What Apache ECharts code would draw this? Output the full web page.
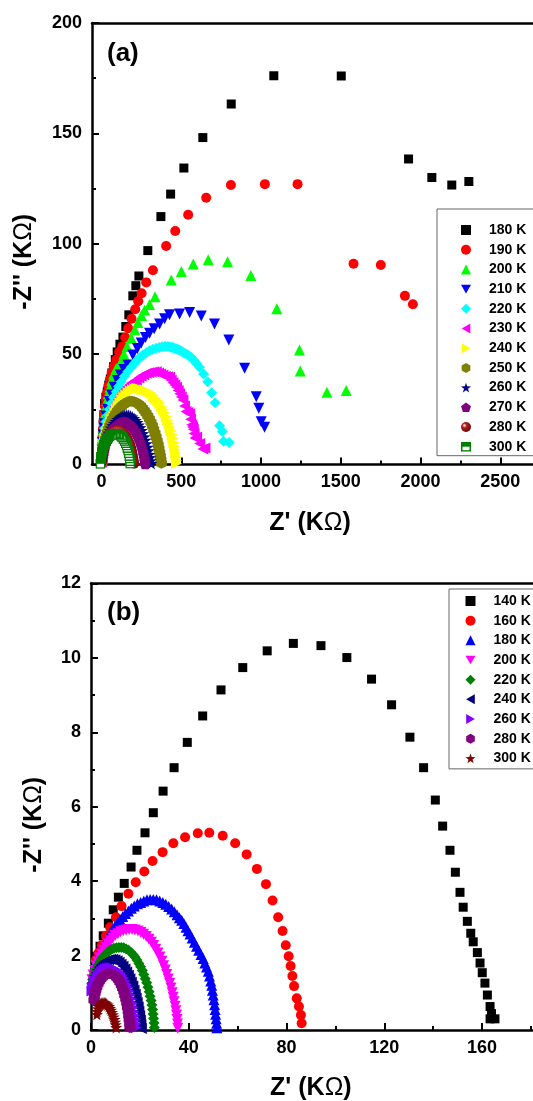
<!DOCTYPE html>
<html>
<head>
<meta charset="utf-8">
<script src="https://cdn.jsdelivr.net/npm/echarts@6/dist/echarts.min.js"></script>
<style>
html,body{margin:0;padding:0;background:#fff;}
#chart{width:533px;height:1101px;}
</style>
</head>
<body>
<div id="chart"></div>
<script>
// ---------- Panel (a) data : [Z' (KOhm), -Z'' (KOhm)] ----------
const a180 = [[1,3],[3,7],[5,11],[8,15],[11,19],[14,22.5],[19,27.7],[27,30.5],[36,33],[45,36],[55,38.8],[65,41.5],[75,44.3],[86,47.5],[98,51],[115,54.5],[134,57.7],[152,62.5],[171,67.8],[196,76.4],[215,81],[234,85.4],[290,96.9],[372,112.3],[433,122.5],[516,134.3],[635,148.1],[813,163.3],[1080,176.1],[1503,176],[1925,138.4],[2071,130],[2196,126.6],[2303,128.2]];
const a190 = [[1,2.5],[2,5.5],[4,9],[6,12.5],[9,16],[12,19.5],[16,23],[21,26.5],[27,29.5],[34,32.5],[42,35.5],[52,38.5],[63,41.5],[76,44.5],[92,47.4],[110,51],[130,53.5],[148,57.5],[167,61.7],[188,66],[211,70.3],[230,74],[251,77.6],[280,82.5],[322,88],[405,99],[462,105.8],[543,113.1],[656,120.8],[811,126.6],[1024,127],[1229,127],[1580,90.9],[1751,90.4],[1902,76.4],[1952,72.6]];
const a200 = [[1,2],[2,5],[4,8],[6,11],[9,14],[12,17],[16,20],[21,23],[27,26],[34,29],[42,32],[52,35],[63,38],[76,41],[92,43.5],[109,44.6],[123,46.5],[140,50],[160,53.5],[186,57.2],[208,61],[228,64.3],[250,67.5],[270,70],[301,72.5],[335,76],[437,83.6],[500,87.4],[575,90.8],[669,92.7],[790,91.9],[936,85.6],[1099,70.5],[1241,51.9],[1246,42.4],[1413,32.7],[1534,33.5]];
const a210 = [[1,3],[3,6.5],[6,10],[10,13.5],[15,16.5],[20,18.5],[28,22],[38,25],[50,28.5],[63,31.5],[80,35],[100,38],[118,40.5],[140,43],[165,45.1],[196,49.6],[225,52.5],[249,55],[275,57.5],[301,59.5],[330,61.5],[364,63.7],[395,66],[426,67.8],[489,68.2],[552,68.8],[625,67.3],[708,63.7],[798,56.4],[897,43.6],[970,30.7],[986,25.5],[1001,19.4],[1022,16.9]];
const a220 = [[1,2],[3,5],[5,8],[8,11],[12,13.5],[19,16.4],[28,19.5],[40,22.4],[50,25],[61,27.7],[75,30.5],[92,33],[107,35.3],[123,37.5],[143,40],[165,42.1],[186,44],[207,45.9],[220,47],[233,48],[246,48.8],[259,49.6],[280,50.6],[300,51.5],[322,52.2],[343,52.7],[362,53],[380,53.3],[398,53.4],[416,53.4],[431,53.2],[445,53],[457,52.7],[468,52.4],[479,52.1],[490,51.8],[500,51.4],[510,50.9],[524,50.3],[537,49.8],[550,49.2],[562,48.6],[578,47.2],[594,45.9],[614,44.1],[640,41],[666,37.5],[690,32.5],[712,28],[740,17.5],[757,14.9],[765,10.5],[800,10]];
const a230 = [[0,1],[1,2],[3,3],[5,4],[7,5],[10,6.3],[13,7.5],[16,8.6],[19,9.6],[23,11.3],[28,13],[34,14.7],[40,16.4],[45,18],[50,19.5],[55,21],[61,22.4],[67,23.7],[74,25],[81,26],[88,27],[96,28.3],[105,29.5],[114,30.5],[123,31.5],[133,32.5],[143,33.5],[154,34.4],[165,35.3],[177,36.2],[190,37],[204,37.7],[218,38.3],[233,39.2],[248,40],[264,40.7],[280,41.3],[295,41.6],[311,41.8],[327,42],[343,42],[357,41.5],[370,41],[385,40.5],[400,40],[413,39.8],[426,39.5],[437,38.2],[448,37],[459,36],[470,35],[480,33.5],[490,32],[500,30.6],[510,29.2],[520,26.5],[530,24],[541,23.5],[552,23],[558,20.5],[565,18],[570,17],[575,16],[580,14],[585,12],[596,12.5],[615,9.5],[635,7],[648,7.5]];
const a240 = [[1,1],[2,2.5],[4,4],[7,5.5],[10,7],[14,8.5],[18,10],[23,11.5],[28,13],[34,14.5],[41,16],[48,17.5],[56,19],[64,20.5],[73,22],[83,23.5],[93,25],[104,26.5],[115,28],[127,29.3],[139,30.5],[152,31.5],[166,32.5],[180,33.3],[194,33.9],[208,34.3],[222,34.5],[236,34.4],[250,34],[265,33.8],[280,33.4],[296,32.8],[311,32.3],[325,31.2],[338,30],[351,28.9],[364,27.7],[376,26.2],[387,24.8],[397,23.2],[406,21.6],[414,20],[422,18.5],[430,16.8],[437,15.2],[443,13.5],[448,11.8],[453,10],[458,8.3],[462,6.6],[466,5],[468,3.4],[470,1.8],[470,0.5]];
const a250 = [[1,1],[3,2.5],[5,4],[8,5.5],[11,7],[15,8.5],[19,10],[24,11.5],[30,13],[36,14.5],[43,16],[51,17.5],[59,19],[68,20.4],[78,21.8],[88,23],[99,24.2],[111,25.3],[123,26.3],[136,27.1],[149,27.8],[162,28.3],[176,28.6],[190,28.6],[204,28.4],[218,28],[231,27.4],[244,26.6],[256,25.6],[268,24.5],[279,23.3],[290,22],[300,20.6],[310,19.1],[319,17.5],[327,15.9],[335,14.2],[342,12.5],[349,10.7],[355,8.9],[360,7.1],[365,5.3],[369,3.6],[372,2],[375,0.6]];
const a260 = [[1,1],[3,2.3],[5,3.6],[8,5],[11,6.4],[15,7.8],[19,9.1],[24,10.4],[30,11.7],[36,13],[43,14.2],[51,15.4],[59,16.5],[68,17.6],[78,18.6],[88,19.5],[99,20.3],[110,21],[122,21.6],[134,22],[146,22.3],[158,22.4],[170,22.3],[182,22],[193,21.5],[204,20.8],[215,20],[225,19],[235,17.9],[244,16.7],[253,15.4],[261,14],[269,12.5],[276,11],[283,9.4],[289,7.8],[295,6.2],[300,4.6],[305,3.1],[309,1.7],[312,0.5]];
const a270 = [[1,1],[3,2.2],[5,3.4],[8,4.7],[11,6],[15,7.3],[19,8.5],[24,9.7],[30,10.9],[36,12],[43,13.1],[51,14.1],[59,15],[68,15.9],[78,16.7],[88,17.4],[98,18],[109,18.5],[120,18.9],[131,19.1],[142,19.2],[153,19.1],[164,18.8],[175,18.3],[185,17.7],[195,16.9],[204,16],[213,15],[221,13.9],[229,12.7],[236,11.4],[243,10],[249,8.6],[255,7.1],[260,5.6],[264,4.1],[268,2.7],[271,1.3],[273,0.3]];
const a280 = [[1,1],[3,2],[5,3.1],[8,4.3],[11,5.5],[15,6.7],[19,7.8],[24,8.9],[30,10],[36,11],[43,11.9],[51,12.8],[60,13.6],[69,14.3],[79,14.8],[89,15.2],[99,15.4],[109,15.4],[119,15.2],[129,14.8],[139,14.2],[148,13.4],[157,12.5],[165,11.4],[173,10.2],[180,8.9],[186,7.5],[191,6],[195,4.5],[199,3],[202,1.6],[204,0.4]];
const a300 = [[180,0.4],[179,1.5],[177,2.7],[174,3.9],[171,5.1],[167,6.3],[162,7.5],[157,8.6],[151,9.7],[144,10.7],[137,11.6],[129,12.4],[121,13],[112,13.5],[103,13.8],[94,14],[85,14],[76,13.9],[67,13.6],[58,13.2],[50,12.7],[42,12.1],[35,11.4],[28,10.6],[22,9.7],[17,8.8],[12,7.8],[8,6.8],[4,5.7],[1,4.6],[-2,3.5],[-4,2.4],[-6,1.3],[-7,0.3]];

// ---------- Panel (b) data ----------
const b140 = [[2.3,1.98],[3.7,2.25],[5,2.53],[7.1,2.87],[9.1,3.23],[11.2,3.57],[13.6,3.94],[16.4,4.38],[18.8,4.83],[22.1,5.3],[25.5,5.84],[29.5,6.42],[34,7.05],[39.4,7.73],[45.7,8.44],[53.2,9.14],[62.1,9.74],[72.1,10.19],[82.8,10.39],[94.1,10.33],[104.7,10.01],[114.8,9.43],[123,8.74],[130.5,7.87],[136.1,7.05],[140.9,6.18],[143.9,5.48],[146.9,4.83],[149.1,4.24],[151,3.7],[152.3,3.3],[154,2.92],[155.4,2.6],[156.4,2.37],[158.1,2.08],[159.2,1.8],[160.1,1.54],[161.2,1.26],[162.2,0.94],[163.3,0.63],[163.9,0.44],[163.3,0.3],[165.3,0.3]];
const b160 = [[2,1.88],[3,2.06],[4.4,2.28],[6.1,2.53],[7.8,2.76],[10.2,3.03],[12.5,3.33],[15.3,3.66],[18.3,3.97],[21.8,4.26],[25.2,4.54],[29.3,4.78],[33.7,5.02],[38.5,5.18],[43.7,5.29],[48.4,5.3],[53.9,5.22],[59,5.02],[63.7,4.72],[67.9,4.33],[71.6,3.92],[74.3,3.48],[76.6,3.03],[78.4,2.66],[79.7,2.28],[80.9,1.98],[81.7,1.72],[82.4,1.45],[83.1,1.18],[84.2,0.85],[85.1,0.63],[85.9,0.4],[86.2,0.18]];
const b180 = [[0.4,1.35],[0.8,1.5],[1.3,1.62],[1.8,1.74],[2.4,1.86],[3,1.97],[3.7,2.08],[4.4,2.19],[5.2,2.3],[6,2.4],[6.9,2.5],[7.8,2.6],[8.8,2.7],[9.8,2.79],[10.8,2.88],[11.9,2.97],[13,3.05],[14.1,3.13],[15.3,3.2],[16.5,3.27],[17.7,3.33],[19,3.39],[20.3,3.43],[21.6,3.47],[22.9,3.5],[24.2,3.51],[25.5,3.51],[26.8,3.5],[28.1,3.47],[29.4,3.43],[30.6,3.38],[31.8,3.32],[33,3.25],[34.1,3.18],[35.2,3.1],[36.2,3.02],[37.1,2.95],[38,2.86],[38.9,2.76],[39.7,2.67],[40.5,2.58],[41.4,2.47],[42.3,2.36],[43.2,2.25],[44.1,2.14],[45,2.03],[45.9,1.92],[46.6,1.8],[47.3,1.69],[48,1.58],[48.5,1.45],[49,1.32],[49.4,1.2],[49.7,1.07],[50,0.94],[50.3,0.81],[50.6,0.68],[50.8,0.55],[51,0.42],[51.2,0.3],[51.4,0.18],[51.5,0.06]];
const b200 = [[0.4,1.35],[0.9,1.48],[1.5,1.6],[2.1,1.72],[2.8,1.83],[3.5,1.94],[4.3,2.04],[5.1,2.14],[6,2.23],[6.9,2.32],[7.9,2.4],[8.9,2.47],[9.9,2.54],[11,2.59],[12.1,2.64],[13.2,2.67],[14.4,2.69],[15.6,2.7],[16.8,2.7],[18,2.69],[19.2,2.66],[20.4,2.62],[21.5,2.57],[22.6,2.51],[23.7,2.44],[24.7,2.36],[25.6,2.27],[26.5,2.17],[27.4,2.07],[28.2,1.96],[29,1.85],[29.7,1.73],[30.4,1.61],[31,1.49],[31.6,1.37],[32.2,1.25],[32.7,1.13],[33.2,1.0],[33.6,0.88],[34,0.76],[34.4,0.64],[34.7,0.52],[35,0.4],[35.2,0.28],[35.4,0.16],[35.5,0.05]];
const b220 = [[0.3,1.25],[0.7,1.36],[1.2,1.47],[1.7,1.57],[2.3,1.66],[2.9,1.75],[3.6,1.83],[4.3,1.9],[5.1,1.97],[5.9,2.03],[6.7,2.08],[7.6,2.13],[8.5,2.17],[9.4,2.2],[10.4,2.21],[11.4,2.22],[12.4,2.22],[13.4,2.21],[14.4,2.18],[15.4,2.14],[16.3,2.09],[17.2,2.03],[18,1.96],[18.8,1.88],[19.6,1.79],[20.3,1.7],[21,1.6],[21.6,1.49],[22.2,1.38],[22.8,1.27],[23.3,1.15],[23.8,1.03],[24.2,0.91],[24.6,0.79],[24.9,0.67],[25.2,0.55],[25.4,0.43],[25.6,0.31],[25.8,0.19],[25.9,0.07]];
const b240 = [[0.3,1.15],[0.7,1.26],[1.1,1.36],[1.6,1.45],[2.2,1.54],[2.8,1.62],[3.4,1.69],[4.1,1.75],[4.8,1.8],[5.6,1.84],[6.4,1.87],[7.2,1.89],[8,1.9],[8.9,1.9],[9.8,1.89],[10.7,1.86],[11.5,1.82],[12.3,1.77],[13.1,1.71],[13.9,1.64],[14.6,1.56],[15.3,1.47],[15.9,1.38],[16.5,1.28],[17.1,1.18],[17.6,1.07],[18.1,0.96],[18.5,0.85],[18.9,0.74],[19.3,0.62],[19.6,0.5],[19.9,0.38],[20.2,0.26],[20.4,0.14],[20.6,0.04]];
const b260 = [[0.4,1.05],[0.8,1.14],[1.3,1.23],[1.8,1.31],[2.4,1.39],[3,1.46],[3.7,1.52],[4.4,1.57],[5.2,1.61],[6,1.64],[6.8,1.66],[7.7,1.67],[8.6,1.67],[9.5,1.65],[10.3,1.62],[11.1,1.58],[11.9,1.53],[12.6,1.47],[13.3,1.4],[13.9,1.32],[14.5,1.23],[15.1,1.14],[15.6,1.04],[16.1,0.94],[16.5,0.83],[16.9,0.72],[17.3,0.61],[17.6,0.5],[17.9,0.39],[18.2,0.28],[18.4,0.17],[18.6,0.06]];
const b280 = [[1.2,0.8],[1.4,0.9],[1.7,1.0],[2,1.08],[2.4,1.16],[2.9,1.24],[3.4,1.31],[4,1.37],[4.6,1.42],[5.3,1.46],[6,1.49],[6.7,1.51],[7.5,1.52],[8.3,1.51],[9.1,1.49],[9.8,1.46],[10.5,1.41],[11.2,1.36],[11.8,1.29],[12.4,1.21],[12.9,1.13],[13.4,1.04],[13.8,0.94],[14.2,0.84],[14.6,0.73],[14.9,0.62],[15.2,0.51],[15.4,0.4],[15.6,0.29],[15.8,0.18],[15.9,0.07]];
const b300 = [[2.4,0.42],[2.5,0.5],[2.8,0.57],[3.1,0.63],[3.5,0.67],[3.9,0.7],[4.4,0.72],[4.9,0.73],[5.4,0.73],[5.9,0.72],[6.4,0.7],[6.9,0.67],[7.4,0.63],[7.8,0.58],[8.2,0.53],[8.6,0.47],[9,0.41],[9.3,0.35],[9.6,0.28],[9.9,0.21],[10.1,0.14],[10.3,0.07]];

// ---------- Tick values ----------
const aXMajor = [0,500,1000,1500,2000,2500,3000];
const aXMinor = [250,750,1250,1750,2250,2750];
const aLegendLabels = ['180 K','190 K','200 K','210 K','220 K','230 K','240 K','250 K','260 K','270 K','280 K','300 K'];
const bLegendLabels = ['140 K','160 K','180 K','200 K','220 K','240 K','260 K','280 K','300 K'];

// ---------- Styling ----------
const FONT = "'Liberation Sans', Arial, sans-serif";
const SYM = {
  square: 'rect',
  circle: 'circle',
  up: 'triangle',
  down: 'path://M0,0L10,0L5,8.66Z',
  left: 'path://M0,5L8.66,0L8.66,10Z',
  right: 'path://M0,0L8.66,5L0,10Z',
  diamond: 'diamond',
  hex: 'path://M5,0L9.33,2.5L9.33,7.5L5,10L0.67,7.5L0.67,2.5Z',
  star: 'path://M5,0L6.2,3.6L10,3.7L7,6L8.1,9.8L5,7.6L1.9,9.8L3,6L0,3.7L3.8,3.6Z',
  pent: 'path://M5,0L10,3.6L8.1,9.5L1.9,9.5L0,3.6Z'
};
const halfSvg = "<svg xmlns='http://www.w3.org/2000/svg' width='20' height='20' viewBox='0 0 20 20'><rect x='1.5' y='1.5' width='17' height='17' fill='#ffffff' stroke='#008000' stroke-width='3'/><rect x='0' y='0' width='20' height='10' fill='#008000'/></svg>";
const HALF = 'image://data:image/svg+xml;charset=utf-8,' + encodeURIComponent(halfSvg);
const sphere = {type:'radial', x:0.35, y:0.35, r:0.75, colorStops:[{offset:0,color:'#ffffff'},{offset:0.3,color:'#b02020'},{offset:1,color:'#5a0000'}]};

function sc(name, data, symbol, size, color, xi, yi) {
  return {type:'scatter', name:name, data:data, symbol:symbol, symbolSize:size,
    itemStyle:{color:color, opacity:1}, xAxisIndex:xi, yAxisIndex:yi,
    animation:false, silent:true, emphasis:{disabled:true}};
}

const plain = (v) => String(v);
const lineStyle = {color:'#000', width:2.5};
const tickStyle = {color:'#000', width:2};
const labelStyle = {color:'#000', fontFamily:FONT, fontWeight:'bold', fontSize:18, formatter:plain};
const nameStyleX = {color:'#000', fontFamily:FONT, fontWeight:'bold', fontSize:25, padding:[0,52,0,0],
  rich:{o:{color:'#000', fontFamily:FONT, fontWeight:'normal', fontSize:25}}};
const nameStyleY = {color:'#000', fontFamily:FONT, fontWeight:'bold', fontSize:25, padding:[0,36,0,0],
  rich:{o:{color:'#000', fontFamily:FONT, fontWeight:'normal', fontSize:25}}};
const legendText = {color:'#000', fontFamily:FONT, fontWeight:'bold', fontSize:14, lineHeight:14, padding:[0,0,0,13]};

const frameAxis = (gi, pos, min, max) => ({type:'value', gridIndex:gi, position:pos, min:min, max:max,
  axisLine:{show:true, onZero:false, lineStyle:lineStyle}, axisTick:{show:false}, axisLabel:{show:false}, splitLine:{show:false}});

const aNames = ['a180','a190','a200','a210','a220','a230','a240','a250','a260','a270','a280','a300'];
const bNames = ['b140','b160','b180','b200','b220','b240','b260','b280','b300'];
const labelMap = {};
aNames.forEach((n,i)=>labelMap[n]=aLegendLabels[i]);
bNames.forEach((n,i)=>labelMap[n]=bLegendLabels[i]);

const option = {
  backgroundColor:'#fff',
  animation:false,
  title:[
    {text:'(a)', left:107, top:41, padding:0, textStyle:{fontFamily:FONT, fontWeight:'bold', fontSize:26, color:'#000'}},
    {text:'(b)', left:107, top:600, padding:0, textStyle:{fontFamily:FONT, fontWeight:'bold', fontSize:26, color:'#000'}}
  ],
  grid:[
    {left:92, top:23, width:488, height:441.5, containLabel:false, outerBoundsMode:'none'},
    {left:91, top:583.5, width:488.75, height:446.5, containLabel:false, outerBoundsMode:'none'}
  ],
  legend:[
    {orient:'vertical', left:437, top:209, padding:[14,40,2,24], itemGap:5.7, itemWidth:10, itemHeight:10,
     borderColor:'#666', borderWidth:1, backgroundColor:'#fff', textStyle:legendText, data:aNames,
     formatter:(n)=>labelMap[n], selectedMode:false},
    {orient:'vertical', left:449, top:589, padding:[5,40,3.5,16.5], itemGap:5.67, itemWidth:10, itemHeight:10,
     borderColor:'#666', borderWidth:1, backgroundColor:'#fff', textStyle:legendText, data:bNames,
     formatter:(n)=>labelMap[n], selectedMode:false}
  ],
  xAxis:[
    {type:'value', gridIndex:0, position:'bottom', min:-60, max:3000,
     axisLine:{show:true, onZero:false, lineStyle:lineStyle},
     axisTick:{show:true, inside:true, length:7, lineStyle:tickStyle, customValues:aXMajor},
     axisLabel:Object.assign({margin:9, customValues:aXMajor.slice(0,6)}, labelStyle),
     splitLine:{show:false},
     name:"Z' (K{o|Ω})", nameLocation:'middle', nameGap:46, nameTextStyle:nameStyleX},
    {type:'value', gridIndex:0, position:'bottom', min:-60, max:3000,
     axisLine:{show:false}, axisTick:{show:true, inside:true, length:4, lineStyle:tickStyle, customValues:aXMinor},
     axisLabel:{show:false}, splitLine:{show:false}},
    frameAxis(0,'top',-60,3000),
    {type:'value', gridIndex:1, position:'bottom', min:0, max:200, interval:40,
     axisLine:{show:true, onZero:false, lineStyle:lineStyle},
     axisTick:{show:true, inside:true, length:7, lineStyle:tickStyle},
     minorTick:{show:true, splitNumber:2, length:4, lineStyle:tickStyle},
     axisLabel:Object.assign({margin:9, showMaxLabel:false}, labelStyle),
     splitLine:{show:false}, minorSplitLine:{show:false},
     name:"Z' (K{o|Ω})", nameLocation:'middle', nameGap:46, nameTextStyle:Object.assign({}, nameStyleX, {padding:[0,49,0,0]})},
    frameAxis(1,'top',0,200)
  ],
  yAxis:[
    {type:'value', gridIndex:0, position:'left', min:0, max:200, interval:50,
     axisLine:{show:true, onZero:false, lineStyle:lineStyle},
     axisTick:{show:true, inside:true, length:7, lineStyle:tickStyle},
     minorTick:{show:true, splitNumber:2, length:4, lineStyle:tickStyle},
     axisLabel:Object.assign({margin:10}, labelStyle),
     splitLine:{show:false}, minorSplitLine:{show:false},
     name:"-Z'' (K{o|Ω})", nameLocation:'middle', nameGap:55, nameTextStyle:nameStyleY},
    frameAxis(0,'right',0,200),
    {type:'value', gridIndex:1, position:'left', min:0, max:12, interval:2,
     axisLine:{show:true, onZero:false, lineStyle:lineStyle},
     axisTick:{show:true, inside:true, length:7, lineStyle:tickStyle},
     minorTick:{show:true, splitNumber:2, length:4, lineStyle:tickStyle},
     axisLabel:Object.assign({margin:10}, labelStyle),
     splitLine:{show:false}, minorSplitLine:{show:false},
     name:"-Z'' (K{o|Ω})", nameLocation:'middle', nameGap:44, nameTextStyle:nameStyleY},
    frameAxis(1,'right',0,12)
  ],
  series:[
    sc('a180', a180, SYM.square, 9, '#000000', 0, 0),
    sc('a190', a190, SYM.circle, 10, '#ff0000', 0, 0),
    sc('a200', a200, SYM.up, 11, '#00ff00', 0, 0),
    sc('a210', a210, SYM.down, 11, '#0000ff', 0, 0),
    sc('a220', a220, SYM.diamond, 11, '#00ffff', 0, 0),
    sc('a230', a230, SYM.left, 11, '#ff00ff', 0, 0),
    sc('a240', a240, SYM.right, 11, '#ffff00', 0, 0),
    sc('a250', a250, SYM.hex, 11, '#808000', 0, 0),
    sc('a260', a260, SYM.star, 12, '#000080', 0, 0),
    sc('a270', a270, SYM.pent, 11, '#800080', 0, 0),
    sc('a280', a280, 'circle', 10, sphere, 0, 0),
    sc('a300', a300, HALF, 10, '#008000', 0, 0),
    sc('b140', b140, SYM.square, 9, '#000000', 3, 2),
    sc('b160', b160, SYM.circle, 10, '#ff0000', 3, 2),
    sc('b180', b180, SYM.up, 11, '#0000ff', 3, 2),
    sc('b200', b200, SYM.down, 11, '#ff00ff', 3, 2),
    sc('b220', b220, SYM.diamond, 11, '#008000', 3, 2),
    sc('b240', b240, SYM.left, 11, '#000080', 3, 2),
    sc('b260', b260, SYM.right, 11, '#8000ff', 3, 2),
    sc('b280', b280, SYM.hex, 11, '#800080', 3, 2),
    sc('b300', b300, SYM.star, 12, '#800000', 3, 2)
  ]
};

const chart = echarts.init(document.getElementById('chart'), null, {renderer:'canvas'});
chart.setOption(option);
</script>
</body>
</html>
